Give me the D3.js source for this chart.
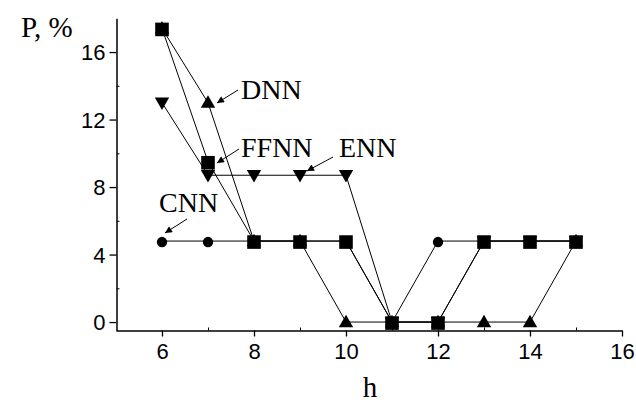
<!DOCTYPE html>
<html>
<head>
<meta charset="utf-8">
<script src="https://cdn.jsdelivr.net/npm/d3@7"></script>
<style>
body { margin: 0; background: #fff; }
</style>
</head>
<body>
<svg width="636" height="403"></svg>
<script>
var svg = d3.select("svg");

// data
var hValues = [6, 7, 8, 9, 10, 11, 12, 13, 14, 15];
var cnn  = [4.8, 4.8, 4.8, 4.8, 4.8, 0, 4.8, 4.8, 4.8, 4.8];
var dnn  = [17.4, 13.0, 4.8, 4.8, 0, 0, 0, 0, 0, 4.8];
var enn  = [13.0, 8.7, 8.7, 8.7, 8.7, 0, 0, 4.8, 4.8, 4.8];
var ffnn = [17.4, 9.5, 4.8, 4.8, 4.8, 0, 0, 4.8, 4.8, 4.8];
var xTicks = [6, 8, 10, 12, 14, 16];
var yTicks = [0, 4, 8, 12, 16];

var x = d3.scaleLinear().domain([5, 16]).range([116, 622]);
var y = d3.scaleLinear().domain([-0.5, 18]).range([330.5, 18.3]);

// minor ticks (inside)
svg.append("g")
    .attr("transform", "translate(0,330.5)")
    .call(d3.axisTop(x).tickValues([7, 9, 11, 13, 15]).tickSize(3).tickFormat(""))
    .call(function (g) { g.select(".domain").remove(); });
svg.append("g")
    .attr("transform", "translate(116.5,0)")
    .call(d3.axisRight(y).tickValues([2, 6, 10, 14]).tickSize(3).tickFormat(""))
    .call(function (g) { g.select(".domain").remove(); });

// major axes
var xAxis = svg.append("g")
    .attr("transform", "translate(0,330.5)")
    .call(d3.axisBottom(x).tickValues(xTicks).tickSize(6).tickSizeOuter(0).tickPadding(7));
var yAxis = svg.append("g")
    .attr("transform", "translate(116.5,0)")
    .call(d3.axisLeft(y).tickValues(yTicks).tickSize(7).tickSizeOuter(0).tickPadding(4));

[xAxis, yAxis].forEach(function (g) {
    g.select(".domain").attr("stroke-width", 1.5);
    g.selectAll(".tick line").attr("stroke-width", 1.3);
    g.selectAll("text")
        .attr("font-family", "Liberation Sans, Arial, sans-serif")
        .attr("font-size", 22)
        .attr("fill", "#000");
});
yAxis.selectAll("text").attr("dy", "0.36em");

var series = [
    { name: "CNN", values: cnn, symbol: d3.symbolCircle, size: 85, flip: false },
    { name: "DNN", values: dnn, symbol: d3.symbolTriangle, size: 90, flip: false },
    { name: "ENN", values: enn, symbol: d3.symbolTriangle, size: 90, flip: true },
    { name: "FFNN", values: ffnn, symbol: d3.symbolSquare, size: 185, flip: false }
];

var line = d3.line()
    .x(function (d) { return x(d[0]); })
    .y(function (d) { return y(d[1]); });

series.forEach(function (s) {
    var pts = hValues.map(function (h, i) { return [h, s.values[i]]; });
    svg.append("path")
        .datum(pts)
        .attr("d", line)
        .attr("fill", "none")
        .attr("stroke", "#000")
        .attr("stroke-width", 1);
});

series.forEach(function (s) {
    var pts = hValues.map(function (h, i) { return [h, s.values[i]]; });
    svg.selectAll(null)
        .data(pts)
        .enter()
        .append("path")
        .attr("d", d3.symbol().type(s.symbol).size(s.size))
        .attr("transform", function (d) {
            return "translate(" + x(d[0]) + "," + (y(d[1]) + (s.flip ? -1 : 1)) + ")" + (s.flip ? " rotate(180)" : "");
        })
        .attr("fill", "#000");
});

// labels
var serif = "Liberation Serif, Times New Roman, serif";
var labels = [
    { t: "P, %", x: 21, y: 37, size: 29 },
    { t: "DNN", x: 241, y: 99, size: 28 },
    { t: "FFNN", x: 241, y: 157, size: 28 },
    { t: "ENN", x: 339, y: 157, size: 28 },
    { t: "CNN", x: 159, y: 212, size: 28 }
];
svg.selectAll(".lbl")
    .data(labels)
    .enter()
    .append("text")
    .attr("x", function (d) { return d.x; })
    .attr("y", function (d) { return d.y; })
    .attr("font-family", serif)
    .attr("font-size", function (d) { return d.size; })
    .text(function (d) { return d.t; });

svg.append("text")
    .attr("x", 370)
    .attr("y", 397)
    .attr("text-anchor", "middle")
    .attr("font-family", serif)
    .attr("font-size", 29)
    .text("h");

// arrows
svg.append("defs").append("marker")
    .attr("id", "ah")
    .attr("viewBox", "0 0 10 10")
    .attr("refX", 10).attr("refY", 5)
    .attr("markerWidth", 9).attr("markerHeight", 7)
    .attr("markerUnits", "userSpaceOnUse")
    .attr("orient", "auto")
    .append("path")
    .attr("d", "M0,0 L10,5 L0,10 Z")
    .attr("fill", "#000");

var arrows = [
    [238, 90, 217, 103],
    [239, 149, 217, 163],
    [333, 157, 307, 171],
    [187, 219, 165, 233]
];
svg.selectAll(".arr")
    .data(arrows)
    .enter()
    .append("line")
    .attr("x1", function (d) { return d[0]; })
    .attr("y1", function (d) { return d[1]; })
    .attr("x2", function (d) { return d[2]; })
    .attr("y2", function (d) { return d[3]; })
    .attr("stroke", "#000")
    .attr("stroke-width", 1)
    .attr("marker-end", "url(#ah)");
</script>
</body>
</html>
